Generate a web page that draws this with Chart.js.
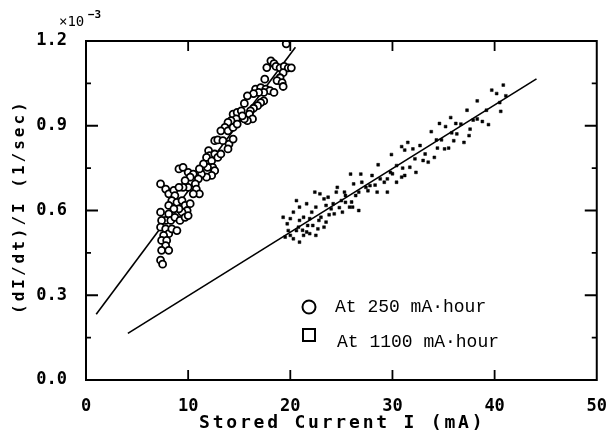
<!DOCTYPE html>
<html>
<head>
<meta charset="utf-8">
<script src="https://cdn.jsdelivr.net/npm/chart.js@4.4.0/dist/chart.umd.min.js"></script>
<style>
  html, body { margin: 0; padding: 0; background: #fff; }
  #wrap { width: 615px; height: 432px; }
</style>
</head>
<body>
<div id="wrap"><canvas id="chart" width="615" height="432"></canvas></div>
<script>
// ticks
const xTicks = [0, 10, 20, 30, 40, 50];
const yTicks = [0.0, 0.3, 0.6, 0.9, 1.2];
const yMinor = [0.15, 0.45, 0.75, 1.05];

// series "At 250 mA·hour" (open circles), y in units of 1e-3 1/sec
const x250 = [19.6, 18.1, 18.4, 18.6, 19.0, 19.4, 19.8, 20.1, 17.7, 19.3, 19.0, 18.7, 19.2, 19.3,
  17.5, 16.6, 17.1, 17.6, 18.0, 18.4, 17.4, 16.9, 16.4, 15.8, 17.4, 17.1, 16.8, 16.4, 16.1, 16.0,
  16.3, 15.8, 15.5, 15.5, 14.4, 14.8, 15.2, 15.3, 14.7, 14.2, 13.9, 13.6, 13.2, 13.9, 14.4, 14.8,
  12.6, 12.9, 13.4, 14.0, 14.4, 13.9, 12.0, 12.1, 11.8, 12.3, 12.6, 12.9, 13.2, 12.4, 11.9, 11.5,
  12.6, 12.3, 11.8, 11.3, 11.1, 9.1, 9.5, 10.0, 10.5, 11.0, 10.7, 10.2, 9.7, 10.8, 11.1, 10.5,
  10.0, 9.5, 7.3, 7.8, 8.1, 8.6, 9.1, 8.7, 8.4, 8.1, 8.9, 9.4, 9.7, 10.2, 9.9, 9.4, 9.1, 8.6,
  8.1, 7.8, 8.3, 8.7, 9.2, 9.7, 10.0, 7.3, 7.4, 7.3, 7.8, 8.1, 8.4, 8.9, 7.6, 7.4, 7.9, 7.8,
  7.4, 8.1, 7.3, 7.5];
const y250 = [1.19, 1.13, 1.12, 1.11, 1.105, 1.11, 1.105, 1.105, 1.106, 1.088, 1.07, 1.06, 1.053, 1.039,
  1.065, 1.03, 1.035, 1.03, 1.024, 1.018, 1.018, 1.018, 1.014, 1.006, 0.988, 0.982, 0.971, 0.962, 0.953, 0.941,
  0.924, 0.918, 0.924, 0.979, 0.941, 0.947, 0.953, 0.935, 0.924, 0.918, 0.912, 0.894, 0.882, 0.882, 0.894, 0.906,
  0.847, 0.85, 0.847, 0.835, 0.853, 0.818, 0.812, 0.794, 0.788, 0.776, 0.8, 0.788, 0.8, 0.753, 0.753, 0.765,
  0.741, 0.724, 0.718, 0.729, 0.747, 0.747, 0.753, 0.735, 0.729, 0.712, 0.694, 0.718, 0.706, 0.676, 0.659, 0.659,
  0.682, 0.682, 0.694, 0.676, 0.659, 0.671, 0.682, 0.653, 0.635, 0.618, 0.629, 0.635, 0.618, 0.624, 0.6, 0.594, 0.606, 0.606,
  0.588, 0.565, 0.565, 0.576, 0.565, 0.576, 0.582, 0.594, 0.565, 0.541, 0.535, 0.518, 0.535, 0.529, 0.512, 0.494, 0.494, 0.476,
  0.459, 0.459, 0.424, 0.41];

// series "At 1100 mA·hour" (small filled squares)
const x1100 = [40.85, 39.72, 40.2, 41.1, 40.5, 40.6, 39.4, 38.8, 38.3, 37.3, 39.2, 38.3, 37.6, 37.5, 37.0,
  36.7, 36.2, 35.7, 35.2, 34.6, 33.8, 34.3, 36.3, 36.0, 35.5, 35.1, 34.4, 34.1, 33.5, 33.0, 32.7,
  32.0, 31.5, 30.9, 31.2, 32.2, 32.3, 31.7, 31.2, 30.9, 30.4, 29.9, 30.4, 29.8, 29.5, 28.8, 28.6,
  28.0, 27.8, 28.5, 29.5, 27.4, 27.0, 26.7, 25.9, 26.9, 26.2, 26.4, 26.1, 26.7, 25.4, 25.3, 25.0,
  24.6, 24.5, 24.2, 23.7, 23.3, 23.5, 24.0, 24.3, 25.1, 25.8, 25.4, 22.9, 22.4, 22.5, 22.1, 21.9,
  21.6, 20.9, 20.6, 20.3, 21.3, 21.7, 22.2, 22.7, 23.0, 23.5, 23.3, 22.5, 21.6, 20.9, 20.8, 20.0,
  19.3, 19.7, 19.8, 20.0, 19.5, 20.3, 20.9, 20.6, 21.3, 21.9,
  33.2, 31.0, 29.2, 27.6, 26.0, 24.8, 23.8, 22.8, 21.2, 37.9, 35.8, 34.8, 28.3, 30.0];
const y1100 = [1.044, 1.026, 1.014, 1.006, 0.982, 0.951, 0.904, 0.915, 0.988, 0.955, 0.955, 0.924, 0.888, 0.865, 0.841,
  0.906, 0.908, 0.929, 0.897, 0.908, 0.879, 0.85, 0.871, 0.847, 0.821, 0.818, 0.821, 0.788, 0.771, 0.777, 0.83,
  0.818, 0.841, 0.826, 0.814, 0.783, 0.735, 0.753, 0.724, 0.718, 0.7, 0.798, 0.759, 0.735, 0.712, 0.712, 0.762,
  0.724, 0.688, 0.665, 0.665, 0.682, 0.7, 0.665, 0.729, 0.729, 0.694, 0.653, 0.612, 0.6, 0.653, 0.665, 0.635,
  0.682, 0.665, 0.624, 0.647, 0.641, 0.618, 0.606, 0.588, 0.594, 0.612, 0.629, 0.659, 0.665, 0.612, 0.594, 0.571,
  0.624, 0.612, 0.635, 0.594, 0.576, 0.547, 0.547, 0.535, 0.576, 0.559, 0.541, 0.512, 0.524, 0.565, 0.541, 0.571,
  0.576, 0.553, 0.529, 0.512, 0.506, 0.5, 0.488, 0.529, 0.512, 0.518,
  0.8, 0.75, 0.7, 0.67, 0.63, 0.61, 0.585, 0.565, 0.53, 0.92, 0.875, 0.85, 0.69, 0.73];

// fitted lines (end points)
const fit250X = [1.0, 20.5];
const fit250Y = [0.233, 1.178];
const fit1100X = [4.1, 44.1];
const fit1100Y = [0.165, 1.066];

const toPts = (xs, ys) => xs.map((x, i) => ({ x: x, y: ys[i] }));

const monoFont = '"DejaVu Sans Mono", "Liberation Mono", monospace';
const legendFont = '"Liberation Mono", "Courier New", monospace';

const decor = {
  id: 'decor',
  afterDraw(chart) {
    const ctx = chart.ctx;
    const a = chart.chartArea;
    const xs = chart.scales.x, ys = chart.scales.y;
    ctx.save();
    ctx.strokeStyle = '#000';
    ctx.fillStyle = '#000';
    // frame
    ctx.lineWidth = 2;
    ctx.strokeRect(a.left, a.top, a.right - a.left, a.bottom - a.top);
    // tick marks pointing inward
    ctx.lineWidth = 1.8;
    ctx.beginPath();
    xTicks.slice(1, -1).forEach(v => {
      const px = xs.getPixelForValue(v);
      ctx.moveTo(px, a.bottom); ctx.lineTo(px, a.bottom - 10);
      ctx.moveTo(px, a.top); ctx.lineTo(px, a.top + 10);
    });
    yTicks.slice(1, -1).forEach(v => {
      const py = ys.getPixelForValue(v);
      ctx.moveTo(a.left, py); ctx.lineTo(a.left + 12, py);
      ctx.moveTo(a.right, py); ctx.lineTo(a.right - 12, py);
    });
    yMinor.forEach(v => {
      const py = ys.getPixelForValue(v);
      ctx.moveTo(a.left, py); ctx.lineTo(a.left + 5, py);
      ctx.moveTo(a.right, py); ctx.lineTo(a.right - 5, py);
    });
    ctx.stroke();

    // x axis title
    ctx.font = 'bold 18px ' + monoFont;
    ctx.letterSpacing = '2.8px';
    ctx.textBaseline = 'middle';
    ctx.textAlign = 'left';
    ctx.fillText('Stored Current I (mA)', 199, 423);

    // y axis title
    ctx.save();
    ctx.translate(20, 314);
    ctx.rotate(-Math.PI / 2);
    ctx.font = 'bold 16px ' + monoFont;
    ctx.letterSpacing = '3px';
    ctx.fillText('(dI/dt)/I (1/sec)', 0, 0);
    ctx.restore();

    // exponent
    ctx.letterSpacing = '0px';
    ctx.font = '14px ' + monoFont;
    ctx.fillText('×10', 59, 22);
    ctx.font = 'bold 11px ' + monoFont;
    ctx.fillText('−3', 88, 15);

    // legend
    ctx.lineWidth = 2;
    ctx.beginPath();
    ctx.arc(309, 307, 6.5, 0, Math.PI * 2);
    ctx.stroke();
    ctx.strokeRect(303, 329, 12, 12);
    ctx.font = '18px ' + legendFont;
    ctx.fillText('At 250 mA·hour', 335, 307);
    ctx.fillText('At 1100 mA·hour', 337, 342);
    ctx.restore();
  }
};

new Chart(document.getElementById('chart').getContext('2d'), {
  type: 'scatter',
  data: {
    datasets: [
      {
        label: 'At 250 mA·hour',
        data: toPts(x250, y250),
        pointStyle: 'circle',
        pointRadius: 3.5,
        borderWidth: 1.8,
        borderColor: '#000',
        backgroundColor: '#fff'
      },
      {
        label: 'At 1100 mA·hour',
        data: toPts(x1100, y1100),
        pointStyle: 'rect',
        pointRadius: 2,
        borderWidth: 0.5,
        borderColor: '#000',
        backgroundColor: '#000'
      },
      {
        type: 'line',
        label: 'fit 250',
        data: toPts(fit250X, fit250Y),
        borderColor: '#000',
        borderWidth: 1.6,
        pointRadius: 0,
        fill: false
      },
      {
        type: 'line',
        label: 'fit 1100',
        data: toPts(fit1100X, fit1100Y),
        borderColor: '#000',
        borderWidth: 1.6,
        pointRadius: 0,
        fill: false
      }
    ]
  },
  options: {
    responsive: false,
    animation: false,
    layout: { padding: { left: 0, right: 10, top: 41, bottom: 0 } },
    plugins: { legend: { display: false }, tooltip: { enabled: false } },
    scales: {
      x: {
        type: 'linear',
        min: 0, max: 50,
        afterBuildTicks: s => { s.ticks = xTicks.map(v => ({ value: v })); },
        afterFit: s => { s.height = 52; },
        grid: { display: false },
        border: { display: false },
        ticks: {
          color: '#000',
          padding: 8,
          maxRotation: 0,
          font: { family: monoFont, size: 17, weight: 'bold' },
          callback: v => String(v)
        }
      },
      y: {
        type: 'linear',
        min: 0, max: 1.2,
        afterBuildTicks: s => { s.ticks = yTicks.map(v => ({ value: v })); },
        afterFit: s => { s.width = 86; },
        grid: { display: false },
        border: { display: false },
        ticks: {
          color: '#000',
          padding: 11,
          font: { family: monoFont, size: 17, weight: 'bold' },
          callback: v => Number(v).toFixed(1)
        }
      }
    }
  },
  plugins: [decor]
});
</script>
</body>
</html>
